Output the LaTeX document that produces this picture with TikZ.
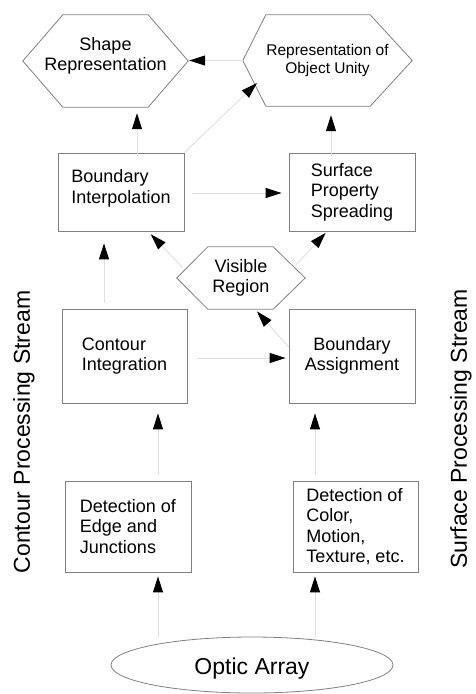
\documentclass[tikz,border=0pt]{standalone}
\usepackage{fontspec}
\setmainfont{Liberation Sans}
\usetikzlibrary{arrows.meta,shapes.geometric}

\tikzset{>=latex}
\tikzset{
  stage/.style={draw=black!50, line width=0.8pt, align=left, inner sep=0pt,
    font=\fontsize{18}{20.5}\selectfont},
  hexa/.style={align=center, inner sep=0pt, font=\fontsize{18}{20}\selectfont},
  hexline/.style={draw=black!50, line width=0.8pt},
  flow/.style={draw=black!12, line width=0.9pt, -{Triangle[length=16pt,width=10pt,black]}},
  stream/.style={rotate=90, font=\fontsize{23}{26}\selectfont},
}
\newcommand\hexoutline[3]{%
  \draw[hexline] (#1.west) -- ([xshift=#2]#1.north west) -- ([xshift=-#3]#1.north east)
    -- (#1.east) -- ([xshift=-#3]#1.south east) -- ([xshift=#2]#1.south west) -- cycle;}

\begin{document}
\begin{tikzpicture}[x=1pt,y=-1pt]
  \useasboundingbox (0,0) rectangle (476,694);

  % representations
  \node[hexa, minimum width=165pt, minimum height=92pt, text depth=14pt] (shaperep) at (105.5,61) {Shape\\Representation};
  \hexoutline{shaperep}{40pt}{40pt}
  \node[hexa, minimum width=169pt, minimum height=91pt, font=\fontsize{15.5}{17.5}\selectfont]
    (unity) at (327.5,60.5) {Representation of\\Object Unity};
  \hexoutline{unity}{23pt}{42pt}

  % two streams
  \node[stage, minimum width=126pt, minimum height=78pt, text depth=11pt] (interp) at (121,192) {Boundary\\Interpolation};
  \node[stage, minimum width=126pt, minimum height=78pt] (spread) at (352,192) {Surface\\Property\\Spreading};
  \node[hexa, minimum width=128pt, minimum height=62pt] (visible) at (241,278) {Visible\\Region};
  \hexoutline{visible}{31pt}{32pt}
  \node[stage, minimum width=125pt, minimum height=94pt] (contour) at (124.5,356) {Contour\\Integration};
  \node[stage, align=center, minimum width=126pt, minimum height=94pt] (assign) at (352,356) {Boundary\\Assignment};
  \node[stage, minimum width=126pt, minimum height=91pt] (edge) at (128,526.5) {Detection of\\Edge and\\Junctions};
  \node[stage, minimum width=125pt, minimum height=91pt] (color) at (355.5,526.5) {Detection of\\Color,\\Motion,\\Texture, etc.};
  \node[ellipse, draw=black!50, line width=0.8pt, minimum width=282pt, minimum height=56pt,
    font=\fontsize{23}{26}\selectfont, text height=24pt] (optic) at (252,665) {Optic Array};

  \node[stream] (contourstream) at (24,432) {Contour Processing Stream};
  \node[stream] (surfacestream) at (461,429) {Surface Processing Stream};

  % connectors
  \draw[flow, shorten >=4pt] ([xshift=30pt]edge.south |- optic.north) -- ([xshift=30pt]edge.south);
  \draw[flow, shorten >=4pt] ([xshift=-40.5pt]color.south |- optic.north) -- ([xshift=-40.5pt]color.south);
  \draw[flow, shorten <=6pt, shorten >=10pt] ([xshift=30pt]edge.north) -- ([xshift=30pt]edge.north |- contour.south);
  \draw[flow, shorten <=6pt, shorten >=10pt] ([xshift=-40.5pt]color.north) -- ([xshift=-40.5pt]color.north |- assign.south);
  \draw[flow, shorten <=10pt, shorten >=3pt] ([yshift=-2pt]contour.east) -- ([yshift=-2pt]contour.east -| assign.west);
  \draw[flow, shorten <=6pt, shorten >=12pt] ([xshift=-20.5pt]contour.north) -- ([xshift=-20.5pt]contour.north |- interp.south);
  \draw[flow, shorten >=3pt] ([yshift=9pt]assign.west) -- ([xshift=14pt]visible.south);
  \draw[flow, shorten >=4pt] ([xshift=-58pt,yshift=10pt]visible.center) -- ([xshift=27pt]interp.south);
  \draw[flow, shorten >=2pt] ([xshift=54pt,yshift=12pt]visible.center) -- ([xshift=-25pt]spread.south);
  \draw[flow, shorten <=8pt, shorten >=7pt] ([yshift=-1pt]interp.east) -- ([yshift=-1pt]interp.east -| spread.west);
  \draw[flow, shorten <=-3pt, shorten >=6pt] ([xshift=16pt]interp.north) -- ([xshift=16pt]interp.north |- shaperep.south);
  \draw[flow, shorten <=-3pt, shorten >=9pt] ([xshift=-21pt]spread.north) -- ([xshift=-21pt]spread.north |- unity.south);
  \draw[flow] (interp.north east) -- ([xshift=-70.5pt,yshift=-22.5pt]unity.center);
  \draw[flow, shorten >=1pt] (unity.west) -- (unity.west -| shaperep.east);
\end{tikzpicture}
\end{document}
